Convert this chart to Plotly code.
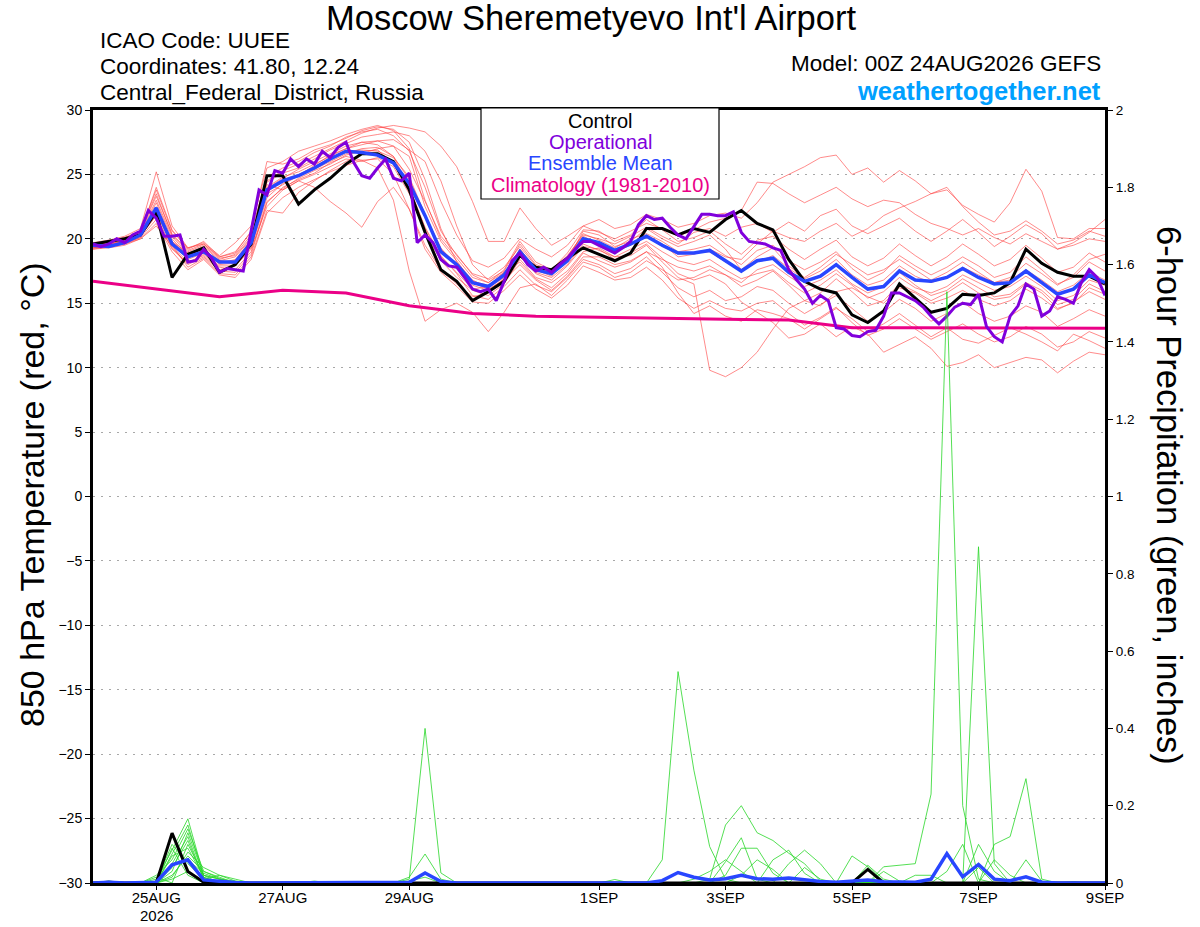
import pandas as pd
import plotly.graph_objects as go

# ---------------- time axes ----------------
t6 = pd.date_range("2026-08-24 00:00", periods=65, freq="6h")
t3 = pd.date_range("2026-08-24 00:00", periods=129, freq="3h")
t24 = pd.date_range("2026-08-24 00:00", periods=17, freq="24h")

tick_dates = ["2026-08-25", "2026-08-27", "2026-08-29", "2026-09-01",
              "2026-09-03", "2026-09-05", "2026-09-07", "2026-09-09"]
tick_text = ["25AUG", "27AUG", "29AUG", "1SEP", "3SEP", "5SEP", "7SEP", "9SEP"]
year_label = "2026"

temp_ticks = [30, 25, 20, 15, 10, 5, 0, -5, -10, -15, -20, -25, -30]
precip_ticks = [0, 0.2, 0.4, 0.6, 0.8, 1, 1.2, 1.4, 1.6, 1.8, 2]
precip_tick_text = ["0", "0.2", "0.4", "0.6", "0.8", "1", "1.2", "1.4", "1.6", "1.8", "2"]

legend_lines = ["Control", "Operational", "Ensemble Mean", "Climatology (1981-2010)"]

# ---------------- 850 hPa temperature (deg C) ----------------
control_t = [19.6, 19.8, 20.0, 20.3, 22.1, 17.0, 18.8, 19.3, 17.4, 18.0,
             19.6, 24.9, 24.9, 22.7, 23.8, 24.7, 25.8, 26.6, 26.6, 26.0,
             23.8, 20.5, 17.6, 16.7, 15.2, 15.9, 16.7, 18.7, 17.8, 17.6,
             18.5, 19.3, 18.8, 18.3, 18.9, 20.8, 20.8, 20.3, 20.8, 20.5,
             21.5, 22.2, 21.2, 20.7, 18.4, 16.7, 16.1, 15.8, 14.1, 13.5,
             14.4, 16.5, 15.4, 14.3, 14.6, 15.7, 15.6, 15.8, 16.6, 19.2,
             18.1, 17.4, 17.1, 17.1, 16.5]

mean_t = [19.5, 19.4, 19.7, 20.3, 22.4, 19.6, 18.6, 19.0, 18.2, 18.2,
          19.7, 23.8, 24.5, 24.9, 25.5, 26.2, 26.8, 26.7, 26.5, 25.9,
          24.3, 21.8, 19.0, 18.0, 16.6, 16.3, 17.2, 19.0, 17.6, 17.3,
          18.3, 20.0, 19.7, 19.1, 19.6, 20.2, 19.5, 18.9, 18.9, 19.1,
          18.3, 17.5, 18.3, 18.5, 17.4, 16.7, 17.1, 18.0, 17.0, 16.1,
          16.3, 17.5, 16.8, 16.7, 17.0, 17.7, 17.0, 16.5, 16.6, 17.5,
          16.6, 15.7, 16.1, 17.2, 16.6]

oper_t = [19.6, 19.4, 19.6, 20.0, 19.7, 20.3, 20.6, 22.2, 21.6, 20.2,
          20.2, 20.3, 18.2, 18.3, 19.2, 18.5, 17.4, 17.7, 17.6, 17.5,
          20.6, 23.8, 23.4, 25.3, 25.1, 26.2, 25.6, 26.2, 25.8, 26.8,
          26.3, 27.1, 27.5, 25.9, 24.9, 24.7, 25.5, 26.2, 24.7, 24.5,
          25.1, 19.7, 20.3, 19.7, 18.4, 17.9, 17.8, 17.0, 16.1, 15.9,
          16.1, 15.2, 16.7, 18.3, 18.9, 18.0, 17.5, 17.8, 17.4, 18.0,
          18.5, 19.2, 19.8, 19.8, 19.5, 19.2, 18.9, 19.3, 19.8, 21.1,
          21.8, 21.5, 21.6, 20.9, 20.3, 20.0, 20.9, 21.9, 21.9, 21.8,
          21.8, 22.1, 20.5, 19.8, 19.7, 19.6, 19.3, 19.1, 17.6, 16.8,
          16.1, 15.0, 15.6, 15.2, 13.1, 13.0, 12.5, 12.4, 12.8, 12.9,
          14.0, 15.8, 15.8, 15.5, 15.2, 14.7, 14.0, 13.4, 14.0, 14.7,
          15.0, 14.9, 15.7, 13.2, 12.4, 12.0, 14.0, 14.8, 16.5, 16.1,
          14.0, 14.4, 15.5, 15.3, 15.0, 16.6, 17.6, 17.0, 15.6]

clim_t = [16.7, 16.1, 15.5, 16.0, 15.8, 14.8, 14.2, 14.0, 13.9,
          13.8, 13.75, 13.7, 13.1, 13.1, 13.1, 13.05, 13.05]

mem_a = [19.6, 19.8, 20.1, 20.5, 23.0, 20.2, 18.8, 19.4, 18.3, 18.6,
         20.0, 24.5, 25.3, 25.8, 26.4, 27.0, 27.6, 28.2, 28.6, 28.8,
         28.6, 28.3, 27.2, 25.6, 22.9, 19.8, 19.8, 22.4, 20.8, 19.5,
         20.2, 21.0, 20.5, 20.0, 20.6, 21.2, 20.8, 20.2, 20.7, 21.3,
         21.6, 22.2, 24.4, 24.3, 23.5, 22.8, 23.4, 24.0, 23.1, 22.5,
         23.0, 22.8, 21.9, 21.2, 20.8, 20.3, 20.8, 20.1, 19.6, 20.4,
         19.8, 19.2, 19.7, 20.5, 21.5]
mem_b = [19.4, 19.6, 19.9, 20.4, 22.0, 19.8, 18.9, 19.2, 18.0, 18.1,
         19.5, 23.5, 24.2, 24.9, 25.7, 26.5, 27.0, 27.3, 27.6, 27.7,
         26.9, 26.0, 22.9, 20.3, 18.3, 17.8, 18.5, 20.0, 19.2, 18.6,
         19.5, 21.0, 21.5, 20.8, 21.1, 21.9, 21.5, 20.9, 21.2, 21.8,
         22.0, 21.6, 22.8, 24.4, 25.0, 25.6, 26.3, 26.5, 25.0, 25.5,
         24.4, 25.3, 24.5, 23.5, 23.8, 22.6, 21.9, 21.3, 22.8, 25.4,
         23.7, 20.1, 20.0, 20.8, 20.8]
mem_c = [19.2, 19.3, 19.5, 20.0, 21.0, 19.4, 18.2, 18.7, 17.6, 17.9,
         19.2, 22.5, 23.8, 24.5, 25.0, 25.6, 26.2, 26.0, 26.3, 25.6,
         23.5, 20.5, 18.3, 17.0, 16.0, 15.6, 16.5, 18.4, 17.0, 16.6,
         17.5, 19.0, 19.3, 18.6, 18.7, 19.5, 18.2, 17.0, 16.5, 9.8,
         9.3, 10.0, 11.2, 13.0, 14.6, 15.2, 14.8, 15.9, 16.2, 15.5,
         15.0, 16.2, 15.8, 15.0, 15.4, 16.0, 15.3, 14.8, 15.2, 16.1,
         15.4, 14.5, 15.1, 15.9, 15.3]
mem_d = [19.3, 19.5, 19.8, 20.2, 21.8, 19.3, 18.0, 18.6, 17.5, 17.4,
         18.8, 22.8, 24.0, 24.6, 25.1, 25.9, 26.4, 26.1, 25.5, 23.0,
         17.5, 13.6, 14.5, 15.0, 14.3, 12.8, 14.3, 16.2, 16.5, 15.6,
         16.8, 18.2, 17.8, 17.0, 17.4, 18.3, 17.6, 16.8, 17.0, 17.6,
         17.2, 16.3, 16.8, 17.5, 16.4, 15.2, 15.8, 16.9, 15.9, 14.8,
         15.2, 16.5, 15.9, 15.2, 15.8, 16.6, 15.8, 15.3, 15.5, 16.5,
         15.8, 14.6, 15.0, 16.2, 15.7]
mem_e = [19.5, 19.7, 20.0, 20.6, 23.5, 20.3, 19.0, 19.5, 18.4, 18.8,
         20.3, 24.2, 23.8, 24.5, 24.0, 22.9, 22.0, 20.9, 22.9, 24.0,
         22.3, 19.5, 17.6, 16.5, 15.5, 15.8, 16.9, 18.6, 17.4, 17.0,
         18.0, 19.6, 19.1, 18.6, 19.2, 19.8, 19.0, 18.3, 18.0, 18.4,
         17.6, 16.9, 17.3, 17.6, 16.6, 15.8, 16.4, 17.3, 16.4, 15.4,
         15.9, 17.0, 16.2, 15.8, 16.3, 17.2, 16.6, 16.0, 16.3, 17.1,
         16.3, 15.2, 15.6, 16.8, 16.4]
mem_f = [19.4, 19.6, 19.8, 20.3, 22.5, 19.8, 18.6, 19.1, 18.2, 18.3,
         19.7, 23.9, 24.7, 25.4, 26.0, 26.6, 27.2, 27.5, 27.3, 26.4,
         24.6, 21.8, 19.3, 17.8, 16.4, 16.0, 16.9, 18.8, 17.3, 16.8,
         17.9, 19.4, 19.2, 18.4, 18.9, 19.6, 18.5, 17.3, 16.8, 17.2,
         16.5, 15.1, 14.3, 13.5, 12.3, 12.6, 13.4, 12.4, 13.2, 12.6,
         11.2, 11.8, 12.4, 11.5, 10.1, 10.4, 11.0, 10.0, 10.4, 10.8,
         10.6, 9.6, 10.5, 11.2, 11.0]
mem_g = [19.2, 19.4, 19.6, 20.1, 21.5, 19.2, 18.1, 18.8, 17.8, 17.6,
         19.0, 22.9, 23.9, 24.7, 25.3, 25.8, 26.5, 26.8, 26.9, 25.8,
         23.9, 20.8, 18.6, 17.4, 16.1, 16.3, 17.4, 18.2, 16.9, 16.2,
         17.3, 18.9, 18.3, 17.8, 18.2, 19.0, 17.8, 15.8, 14.2, 14.8,
         14.0, 13.6, 14.5, 14.2, 13.8, 13.0, 13.8, 14.6, 13.8, 12.8,
         13.4, 14.2, 13.3, 12.4, 13.1, 12.2, 11.9, 12.5, 13.1, 12.6,
         12.0, 11.3, 12.6, 12.1, 11.5]
mem_h = [19.6, 19.7, 20.0, 20.5, 24.0, 20.7, 19.2, 19.8, 18.6, 18.9,
         20.6, 26.0, 25.8, 26.2, 26.9, 27.3, 27.8, 28.4, 28.7, 28.5,
         27.5, 24.6, 20.8, 18.2, 16.8, 16.2, 17.0, 19.2, 17.6, 17.1,
         18.6, 20.4, 19.9, 19.3, 20.0, 20.4, 19.8, 19.0, 19.2, 19.5,
         18.7, 18.0, 19.1, 19.5, 18.3, 17.6, 18.2, 19.0, 17.7, 16.8,
         17.4, 18.7, 17.9, 17.2, 17.8, 18.6, 17.9, 17.0, 17.4, 18.6,
         17.6, 16.5, 17.0, 18.2, 17.5]
mem_i = [19.7, 19.9, 20.2, 20.8, 25.2, 21.0, 19.3, 19.6, 18.5, 18.7,
         20.1, 24.4, 25.1, 25.5, 26.2, 26.9, 27.4, 27.9, 28.1, 28.3,
         28.0, 26.8, 24.5, 21.0, 18.0, 16.8, 17.5, 19.6, 18.0, 17.6,
         18.9, 20.7, 20.6, 19.8, 20.3, 21.5, 20.7, 19.8, 20.1, 20.6,
         19.6, 18.8, 19.9, 20.2, 19.2, 18.4, 19.2, 19.9, 18.6, 17.9,
         18.5, 19.6, 18.7, 17.9, 18.6, 19.6, 18.8, 17.9, 18.4, 19.5,
         18.5, 17.4, 17.8, 18.9, 18.2]
mem_j = [19.3, 19.5, 19.7, 20.1, 22.2, 19.5, 17.8, 18.5, 17.3, 17.2,
         18.6, 22.2, 22.0, 23.6, 24.5, 25.3, 26.0, 26.6, 27.0, 27.2,
         26.4, 22.5, 19.8, 18.3, 16.6, 16.1, 16.8, 18.0, 16.8, 16.0,
         17.1, 18.6, 18.6, 18.0, 18.3, 19.0, 18.4, 17.8, 17.5, 17.9,
         17.2, 16.6, 17.6, 18.0, 17.1, 16.3, 16.8, 17.6, 16.5, 15.8,
         16.3, 17.4, 16.4, 15.6, 16.0, 16.9, 16.2, 15.5, 15.7, 16.6,
         16.0, 14.9, 15.3, 16.5, 15.9]
mem_k = [19.5, 19.6, 19.9, 20.4, 22.8, 20.0, 18.7, 19.3, 18.1, 18.4,
         19.9, 24.0, 24.8, 25.2, 25.8, 26.4, 27.0, 27.5, 27.6, 27.2,
         25.4, 22.9, 20.2, 18.8, 17.2, 16.6, 17.6, 19.8, 18.2, 17.6,
         18.7, 20.3, 20.0, 19.6, 20.2, 20.9, 20.2, 19.6, 20.5, 20.8,
         20.2, 20.9, 21.2, 20.5, 21.3, 20.6, 21.8, 22.3, 21.0, 20.4,
         21.0, 21.6, 20.6, 19.8, 20.6, 21.5, 20.5, 19.4, 20.2, 21.1,
         20.4, 19.2, 19.5, 20.0, 19.8]
mem_l = [19.4, 19.5, 19.8, 20.2, 21.9, 19.6, 18.4, 18.9, 17.9, 17.9,
         19.3, 23.2, 24.3, 24.9, 25.4, 26.0, 26.6, 27.0, 27.1, 26.4,
         24.0, 20.9, 18.7, 17.3, 15.6, 15.3, 16.3, 17.6, 16.4, 15.9,
         17.0, 18.4, 18.0, 17.3, 17.7, 18.6, 17.4, 16.2, 15.5, 16.0,
         15.2, 15.5, 16.3, 16.0, 15.0, 14.2, 14.9, 15.6, 14.6, 13.6,
         14.3, 15.3, 14.6, 13.6, 14.2, 15.1, 14.2, 13.6, 14.0, 14.8,
         14.3, 13.2, 13.8, 14.5, 14.0]
mem_m = [19.6, 19.8, 20.0, 20.6, 23.3, 20.4, 19.1, 19.6, 18.6, 19.0,
         20.5, 24.8, 25.5, 26.0, 26.7, 27.2, 27.9, 28.3, 28.5, 28.0,
         26.8, 24.0, 20.6, 18.7, 17.3, 16.9, 17.8, 19.4, 17.9, 17.3,
         18.6, 20.2, 19.6, 19.0, 19.5, 20.3, 19.6, 18.6, 18.8, 19.2,
         18.6, 18.4, 19.6, 20.6, 20.1, 19.8, 20.6, 21.2, 20.2, 20.8,
         21.8, 22.4, 22.9, 23.5, 24.0, 22.5, 21.3, 20.3, 20.6, 21.4,
         20.6, 19.6, 19.9, 20.6, 20.2]
mem_n = [19.3, 19.4, 19.6, 20.0, 21.2, 19.0, 17.6, 18.4, 17.2, 17.0,
         18.4, 22.0, 23.2, 24.0, 24.6, 25.2, 25.7, 26.1, 26.2, 25.0,
         22.3, 19.2, 17.4, 16.3, 15.1, 15.0, 16.0, 17.2, 16.1, 15.4,
         16.4, 17.9, 17.4, 16.8, 17.0, 17.8, 16.8, 15.4, 14.6, 15.2,
         14.6, 14.4, 15.0, 15.2, 14.2, 13.3, 13.9, 14.7, 13.5, 12.5,
         13.0, 13.8, 13.0, 12.2, 12.8, 13.4, 12.6, 12.0, 12.4, 13.2,
         12.6, 11.6, 12.0, 12.8, 12.3]
mem_o = [19.5, 19.5, 19.8, 20.3, 22.1, 19.7, 18.8, 19.1, 18.3, 18.2,
         19.6, 23.6, 24.6, 25.0, 25.6, 26.3, 26.8, 26.9, 26.8, 26.3,
         24.8, 21.9, 19.2, 18.1, 16.7, 16.4, 17.3, 19.2, 17.7, 17.4,
         18.4, 20.0, 19.6, 19.2, 19.6, 20.2, 19.4, 18.8, 18.9, 19.0,
         18.2, 17.6, 18.2, 18.7, 17.7, 16.9, 17.5, 18.4, 17.2, 16.4,
         16.8, 17.9, 17.1, 16.6, 17.0, 17.8, 17.2, 16.6, 16.8, 17.6,
         16.8, 15.9, 16.4, 17.4, 16.8]
mem_p = [19.6, 19.8, 20.1, 20.6, 23.8, 20.6, 19.3, 19.7, 18.7, 19.7,
         21.0, 25.5, 26.0, 26.8, 27.2, 27.6, 28.1, 28.5, 28.8, 28.4,
         27.0, 23.0, 20.0, 18.5, 17.0, 16.6, 17.4, 18.6, 17.8, 17.5,
         18.3, 20.6, 20.3, 19.4, 19.8, 20.8, 20.0, 19.4, 19.8, 20.3,
         19.2, 17.6, 18.6, 19.3, 17.9, 17.0, 17.8, 18.8, 18.0, 17.2,
         17.6, 18.4, 17.6, 16.8, 17.4, 18.2, 17.4, 16.6, 17.0, 18.1,
         17.3, 16.4, 17.2, 18.4, 18.8]

members_t = [mem_a, mem_b, mem_c, mem_d, mem_e, mem_f, mem_g, mem_h,
             mem_i, mem_j, mem_k, mem_l, mem_m, mem_n, mem_o, mem_p]

# ---------------- 6-hour precipitation (inches) ----------------
control_p = [0, 0.002, 0, 0, 0, 0.129, 0.03, 0.002, 0, 0,
             0, 0, 0, 0, 0, 0, 0, 0, 0, 0,
             0, 0, 0, 0, 0, 0, 0, 0, 0, 0,
             0, 0, 0, 0, 0, 0, 0, 0, 0, 0,
             0, 0, 0, 0, 0, 0, 0, 0, 0, 0.035,
             0, 0, 0, 0, 0, 0, 0, 0, 0, 0,
             0, 0, 0, 0, 0]
mean_p = [0, 0.002, 0, 0, 0.002, 0.047, 0.06, 0.008, 0.004, 0.001,
          0, 0, 0, 0, 0, 0, 0, 0, 0, 0,
          0.002, 0.026, 0.004, 0, 0, 0, 0, 0, 0, 0,
          0, 0, 0, 0.001, 0, 0, 0.006, 0.027, 0.015, 0.008,
          0.011, 0.02, 0.011, 0.01, 0.013, 0.008, 0.004, 0.002, 0.006, 0.008,
          0.003, 0.002, 0.002, 0.01, 0.076, 0.016, 0.048, 0.01, 0.006, 0.016,
          0.002, 0, 0, 0, 0]

pm_1 = [0, 0, 0, 0, 0.01, 0.085, 0.166, 0.02, 0.01, 0,
        0, 0, 0, 0, 0, 0, 0, 0, 0, 0,
        0.01, 0.40, 0.026, 0, 0, 0, 0, 0, 0, 0,
        0, 0, 0, 0, 0, 0, 0.06, 0.547, 0.292, 0.094,
        0.01, 0, 0, 0, 0, 0, 0, 0, 0, 0,
        0, 0, 0, 0, 0, 0, 0, 0, 0, 0,
        0, 0, 0, 0, 0]
pm_2 = [0, 0.005, 0, 0, 0.02, 0.06, 0.14, 0.03, 0.015, 0,
        0, 0, 0, 0, 0, 0, 0, 0, 0, 0,
        0.015, 0.075, 0.01, 0, 0, 0, 0, 0, 0, 0,
        0, 0, 0, 0, 0, 0, 0, 0, 0, 0.01,
        0.15, 0.2, 0.13, 0.11, 0.077, 0.05, 0.005, 0, 0, 0,
        0, 0, 0, 0, 0, 0, 0, 0, 0, 0,
        0, 0, 0, 0, 0]
pm_3 = [0, 0, 0, 0, 0, 0.04, 0.11, 0.01, 0.02, 0.005,
        0, 0, 0, 0, 0, 0, 0, 0, 0, 0,
        0.005, 0.015, 0, 0, 0, 0, 0, 0, 0, 0,
        0, 0, 0, 0, 0, 0, 0, 0, 0, 0,
        0.055, 0.117, 0.01, 0, 0, 0, 0, 0, 0, 0,
        0.042, 0.046, 0.05, 0.23, 1.53, 0.2, 0.01, 0, 0, 0,
        0, 0, 0, 0, 0]
pm_4 = [0, 0, 0, 0, 0.005, 0.1, 0.05, 0.01, 0, 0,
        0, 0, 0, 0, 0, 0, 0, 0, 0, 0,
        0, 0, 0, 0, 0, 0, 0, 0, 0, 0,
        0, 0, 0, 0, 0, 0, 0, 0, 0, 0,
        0.02, 0.09, 0.09, 0.025, 0, 0, 0, 0, 0, 0,
        0, 0, 0, 0, 0, 0, 0.87, 0.05, 0, 0,
        0, 0, 0, 0, 0]
pm_5 = [0, 0, 0, 0, 0, 0.03, 0.13, 0.02, 0.01, 0,
        0, 0, 0, 0, 0, 0, 0, 0, 0, 0,
        0, 0, 0, 0, 0, 0, 0, 0, 0, 0,
        0, 0, 0, 0, 0, 0, 0, 0, 0, 0,
        0, 0, 0, 0.06, 0.085, 0.025, 0, 0, 0, 0,
        0, 0, 0, 0, 0.03, 0.1, 0, 0, 0, 0,
        0, 0, 0, 0, 0]
pm_6 = [0, 0, 0, 0, 0, 0.07, 0.09, 0.015, 0, 0,
        0, 0, 0, 0, 0, 0, 0, 0, 0, 0,
        0, 0, 0, 0, 0, 0, 0, 0, 0, 0,
        0, 0, 0, 0, 0, 0, 0, 0, 0, 0,
        0, 0, 0, 0, 0.05, 0.085, 0.05, 0, 0, 0,
        0, 0, 0, 0, 0, 0, 0, 0.1, 0.12, 0.27,
        0.01, 0, 0, 0, 0]
pm_7 = [0, 0, 0, 0, 0, 0.02, 0.07, 0.03, 0.012, 0,
        0, 0, 0, 0, 0.005, 0, 0, 0, 0, 0,
        0, 0, 0, 0, 0, 0, 0, 0, 0, 0,
        0, 0, 0, 0, 0, 0, 0, 0, 0, 0,
        0, 0, 0, 0, 0, 0, 0, 0, 0.07, 0.042,
        0.005, 0, 0, 0, 0, 0, 0, 0, 0, 0,
        0, 0, 0, 0, 0]
pm_8 = [0, 0, 0, 0, 0, 0.05, 0.12, 0.01, 0.005, 0,
        0, 0, 0, 0, 0, 0, 0, 0, 0, 0,
        0, 0, 0, 0, 0, 0, 0, 0, 0, 0,
        0, 0, 0, 0, 0, 0, 0, 0, 0, 0,
        0, 0, 0, 0, 0, 0, 0, 0, 0, 0.046,
        0.01, 0, 0, 0, 0, 0, 0.1, 0.03, 0, 0,
        0, 0, 0, 0, 0]
pm_9 = [0, 0, 0, 0, 0, 0.01, 0.03, 0.005, 0, 0,
        0, 0, 0, 0, 0, 0, 0, 0, 0, 0,
        0, 0, 0, 0, 0, 0, 0, 0, 0, 0,
        0, 0, 0, 0.009, 0, 0, 0, 0, 0.01, 0.03,
        0.06, 0.03, 0, 0, 0, 0, 0, 0, 0, 0,
        0.03, 0.005, 0, 0, 0, 0, 0, 0, 0, 0,
        0, 0, 0, 0, 0]
pm_10 = [0, 0, 0, 0, 0, 0.09, 0.02, 0, 0, 0,
         0, 0, 0, 0, 0, 0, 0, 0, 0, 0,
         0, 0, 0, 0, 0, 0, 0, 0, 0, 0,
         0, 0, 0, 0, 0, 0, 0, 0, 0, 0,
         0, 0, 0, 0, 0, 0, 0, 0, 0, 0,
         0, 0, 0, 0, 0, 0, 0, 0, 0, 0.06,
         0.005, 0, 0.003, 0, 0]
pm_11 = [0, 0, 0, 0, 0.015, 0, 0.1, 0.02, 0, 0,
         0, 0, 0, 0, 0, 0, 0, 0, 0, 0,
         0, 0, 0, 0, 0, 0, 0, 0, 0, 0,
         0, 0, 0, 0, 0, 0, 0, 0, 0, 0,
         0, 0.02, 0.06, 0.035, 0, 0, 0, 0, 0, 0,
         0, 0, 0, 0, 0, 0, 0, 0.06, 0.02, 0,
         0, 0, 0, 0, 0]
pm_12 = [0, 0, 0, 0, 0, 0.045, 0.06, 0.025, 0.01, 0.005,
         0, 0, 0, 0, 0, 0, 0, 0, 0, 0,
         0, 0, 0, 0, 0, 0, 0, 0, 0, 0,
         0, 0, 0, 0, 0, 0, 0, 0, 0, 0,
         0, 0, 0, 0, 0, 0.04, 0.01, 0, 0, 0,
         0, 0, 0.02, 0.02, 0, 0, 0, 0, 0, 0,
         0, 0, 0, 0, 0]
pm_13 = [0, 0, 0, 0, 0, 0.075, 0.15, 0.015, 0, 0,
         0, 0, 0, 0, 0, 0, 0, 0, 0, 0,
         0, 0, 0, 0, 0, 0, 0, 0, 0, 0,
         0, 0, 0, 0, 0, 0, 0, 0, 0, 0,
         0, 0, 0, 0, 0, 0, 0, 0, 0, 0,
         0, 0, 0, 0, 0, 0, 0.04, 0, 0, 0,
         0, 0, 0, 0, 0]
pm_14 = [0, 0, 0, 0, 0, 0.015, 0.08, 0.04, 0.02, 0.01,
         0, 0, 0, 0, 0, 0, 0, 0, 0, 0,
         0, 0, 0, 0, 0, 0, 0, 0, 0, 0,
         0, 0, 0, 0, 0, 0, 0, 0, 0, 0,
         0, 0, 0, 0, 0, 0, 0, 0, 0, 0,
         0, 0, 0, 0, 0, 0, 0, 0, 0, 0,
         0, 0, 0, 0, 0]

members_p = [pm_1, pm_2, pm_3, pm_4, pm_5, pm_6, pm_7,
             pm_8, pm_9, pm_10, pm_11, pm_12, pm_13, pm_14]

# ---------------- styles ----------------
FONT = "Liberation Sans"
RED = "rgba(255,60,60,0.75)"
GREEN = "rgb(40,215,40)"
BLACK = "black"
BLUE = "rgb(40,70,255)"
PURPLE = "rgb(128,0,220)"
MAGENTA = "rgb(235,0,135)"
legend_colors = [BLACK, PURPLE, BLUE, MAGENTA]

fig = go.Figure()

for m in members_t:
    fig.add_trace(go.Scatter(x=t6, y=m, mode="lines", yaxis="y",
                             line=dict(color=RED, width=0.8), hoverinfo="skip"))

fig.add_trace(go.Scatter(x=t24, y=clim_t, mode="lines", yaxis="y",
                         line=dict(color=MAGENTA, width=3)))
fig.add_trace(go.Scatter(x=t6, y=control_t, mode="lines", yaxis="y",
                         line=dict(color=BLACK, width=3)))
fig.add_trace(go.Scatter(x=t6, y=mean_t, mode="lines", yaxis="y",
                         line=dict(color=BLUE, width=3.5)))
fig.add_trace(go.Scatter(x=t3, y=oper_t, mode="lines", yaxis="y",
                         line=dict(color=PURPLE, width=3)))

for m in members_p:
    fig.add_trace(go.Scatter(x=t6, y=m, mode="lines", yaxis="y2",
                             line=dict(color=GREEN, width=0.8), hoverinfo="skip"))
fig.add_trace(go.Scatter(x=t6, y=control_p, mode="lines", yaxis="y2",
                         line=dict(color=BLACK, width=3)))
fig.add_trace(go.Scatter(x=t6, y=mean_p, mode="lines", yaxis="y2",
                         line=dict(color=BLUE, width=3.5)))

fig.update_layout(
    width=1200, height=927,
    margin=dict(l=93, r=95, t=110, b=44),
    plot_bgcolor="white", paper_bgcolor="white",
    showlegend=False,
    font=dict(family=FONT, color="black"),
    xaxis=dict(
        type="date", automargin=False,
        range=["2026-08-24 00:00", "2026-09-09 00:00"],
        tickvals=tick_dates, ticktext=tick_text,
        tickfont=dict(size=15, family=FONT),
        showgrid=False, zeroline=False,
        showline=True, linecolor="black", linewidth=3, mirror=True,
        ticks="outside", ticklen=4, tickwidth=1, tickcolor="black",
    ),
    yaxis=dict(
        automargin=False,
        range=[-30, 30], tickvals=temp_ticks,
        tickfont=dict(size=14, family=FONT),
        showgrid=True, gridcolor="#a8a8a8", gridwidth=1, griddash="2px,6px",
        zeroline=False,
        showline=True, linecolor="black", linewidth=3, mirror=True,
        ticks="outside", ticklen=5, tickwidth=1, tickcolor="black",
    ),
    yaxis2=dict(
        automargin=False,
        overlaying="y", side="right",
        range=[0, 2], tickvals=precip_ticks, ticktext=precip_tick_text,
        tickfont=dict(size=13.5, family=FONT),
        showgrid=False, zeroline=False,
        showline=True, linecolor="black", linewidth=3,
        ticks="outside", ticklen=5, tickwidth=1, tickcolor="black",
    ),
)
try:
    fig.update_xaxes(ticklabelstandoff=-5)
except Exception:
    pass

# paper coordinate helpers (plot area: x 93..1105, y 110..883 px)
def px(xp):
    return (xp - 93) / 1012.0

def py(yp):
    return (883 - yp) / 773.0

ann = []
ann.append(dict(text="Moscow Sheremetyevo Int'l Airport", x=px(591), y=py(18),
                xanchor="center", yanchor="middle", font=dict(size=34.5, family=FONT)))
ann.append(dict(text="ICAO Code: UUEE", x=px(98), y=py(41),
                xanchor="left", yanchor="middle", font=dict(size=22.5, family=FONT)))
ann.append(dict(text="Coordinates: 41.80, 12.24", x=px(98), y=py(67),
                xanchor="left", yanchor="middle", font=dict(size=22.5, family=FONT)))
ann.append(dict(text="Central_Federal_District, Russia", x=px(98), y=py(93),
                xanchor="left", yanchor="middle", font=dict(size=22.5, family=FONT)))
ann.append(dict(text="Model: 00Z 24AUG2026 GEFS", x=px(1103), y=py(63),
                xanchor="right", yanchor="middle", font=dict(size=22.5, family=FONT)))
ann.append(dict(text="<b>weathertogether.net</b>", x=px(1103), y=py(91),
                xanchor="right", yanchor="middle",
                font=dict(size=25.5, family=FONT, color="rgb(0,160,255)")))
# year under first date tick
ann.append(dict(text=year_label, x=tick_dates[0], xref="x", y=py(915),
                xanchor="center", yanchor="middle", font=dict(size=15, family=FONT)))

# legend box: rectangle + one text line per entry
legend_y = [121, 142, 163, 185]
for txt, col, yy in zip(legend_lines, legend_colors, legend_y):
    ann.append(dict(text=txt, x=px(600), y=py(yy), xanchor="center", yanchor="middle",
                    font=dict(size=20, family=FONT, color=col)))

ann.append(dict(text="850 hPa Temperature (red, °C)", x=px(32), y=py(495),
                xanchor="center", yanchor="middle", textangle=-90,
                font=dict(size=34, family=FONT)))
ann.append(dict(text="6-hour Precipitation (green, inches)", x=px(1169), y=py(495),
                xanchor="center", yanchor="middle", textangle=90,
                font=dict(size=34.5, family=FONT)))

for a in ann:
    a.setdefault("xref", "paper")
    a.update(yref="paper", showarrow=False)
fig.update_layout(annotations=ann)

fig.add_shape(type="rect", xref="paper", yref="paper",
              x0=px(481), x1=px(719), y0=py(108), y1=py(199),
              fillcolor="white", line=dict(color="black", width=1.2), layer="above")

fig.write_html("out.html",
               config={"displayModeBar": False},
               post_script="document.body.style.margin='0';document.body.style.overflow='hidden';")
